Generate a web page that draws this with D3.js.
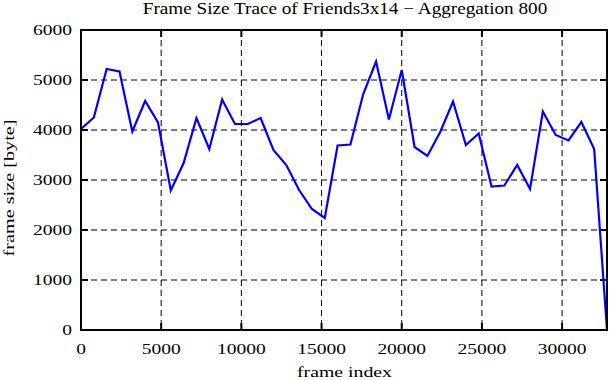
<!DOCTYPE html>
<html>
<head>
<meta charset="utf-8">
<script src="https://cdn.jsdelivr.net/npm/d3@7"></script>
<style>
  html, body { margin: 0; padding: 0; background: #fff; }
  svg { display: block; }
  text { font-family: "Liberation Serif", "DejaVu Serif", serif; fill: #000; }
</style>
</head>
<body>
<svg id="chart" width="611" height="380"></svg>
<script>
// Data: frame size per aggregation window of 800 frames
const aggregation = 800;
const frameSizes = [4020, 4250, 5220, 5170, 3970, 4580, 4150, 2790, 3340, 4240,
                    3620, 4610, 4120, 4120, 4240, 3600, 3300, 2800, 2420, 2240,
                    3690, 3710, 4720, 5370, 4210, 5200, 3660, 3480, 3960, 4570,
                    3700, 3930, 2870, 2890, 3300, 2820, 4370, 3900, 3790, 4160,
                    3620, 0];
const frameIndex = frameSizes.map((_, i) => i * aggregation);
const xTicks = [0, 5000, 10000, 15000, 20000, 25000, 30000];
const yTicks = [0, 1000, 2000, 3000, 4000, 5000, 6000];
const titleText = "Frame Size Trace of Friends3x14 \u2212 Aggregation 800";
const xLabel = "frame index";
const yLabel = "frame size [byte]";

(function () {
const svg = d3.select("#chart");
const mL = 81, mR = 607, mT = 30, mB = 330;

const x = d3.scaleLinear().domain([0, frameIndex[frameIndex.length - 1]]).range([mL, mR]);
const y = d3.scaleLinear().domain([0, 6000]).range([mB, mT]);

// grid
const grid = svg.append("g");
grid.selectAll("line.gx").data(xTicks.filter(d => d > 0)).enter().append("line")
  .attr("x1", d => x(d)).attr("x2", d => x(d)).attr("y1", mT).attr("y2", mB)
  .attr("stroke", "#000").attr("stroke-width", 1).attr("stroke-dasharray", "6,4");
grid.selectAll("line.gy").data(yTicks.filter(d => d > 0 && d < 6000)).enter().append("line")
  .attr("x1", mL).attr("x2", mR).attr("y1", d => y(d)).attr("y2", d => y(d))
  .attr("stroke", "#000").attr("stroke-width", 1).attr("stroke-dasharray", "6,4");

// inward ticks on all sides
const tl = 7;
const ticks = svg.append("g").attr("stroke", "#000").attr("stroke-width", 2);
xTicks.forEach(d => {
  ticks.append("line").attr("x1", x(d)).attr("x2", x(d)).attr("y1", mB).attr("y2", mB - tl);
  ticks.append("line").attr("x1", x(d)).attr("x2", x(d)).attr("y1", mT).attr("y2", mT + tl);
});
yTicks.forEach(d => {
  ticks.append("line").attr("x1", mL).attr("x2", mL + tl).attr("y1", y(d)).attr("y2", y(d));
  ticks.append("line").attr("x1", mR).attr("x2", mR - tl).attr("y1", y(d)).attr("y2", y(d));
});

// line
const line = d3.line().x((d, i) => x(frameIndex[i])).y(d => y(d));
svg.append("path").datum(frameSizes)
  .attr("d", line).attr("fill", "none").attr("stroke", "#0000ff")
  .attr("stroke-width", 2.2).attr("stroke-linejoin", "miter");

// frame
svg.append("rect").attr("x", mL).attr("y", mT).attr("width", mR - mL).attr("height", mB - mT)
  .attr("fill", "none").attr("stroke", "#000").attr("stroke-width", 2);

// tick labels (stretched serif, like the reference)
svg.append("g").selectAll("text").data(xTicks).enter().append("text")
  .attr("transform", d => `translate(${x(d)},354) scale(1.3,1)`)
  .attr("text-anchor", "middle").attr("font-size", 15).text(d => d);
svg.append("g").selectAll("text").data(yTicks).enter().append("text")
  .attr("transform", d => `translate(72,${y(d) + 5}) scale(1.3,1)`)
  .attr("text-anchor", "end").attr("font-size", 15).text(d => d);

// titles
svg.append("text").attr("transform", "translate(345,14) scale(1.2,1)")
  .attr("text-anchor", "middle").attr("font-size", 16).text(titleText);
svg.append("text").attr("transform", "translate(344.5,377) scale(1.32,1)")
  .attr("text-anchor", "middle").attr("font-size", 15).text(xLabel);
svg.append("text").attr("transform", "translate(14,188) rotate(-90) scale(1.35,1)")
  .attr("text-anchor", "middle").attr("font-size", 15).text(yLabel);
})();
</script>
</body>
</html>
